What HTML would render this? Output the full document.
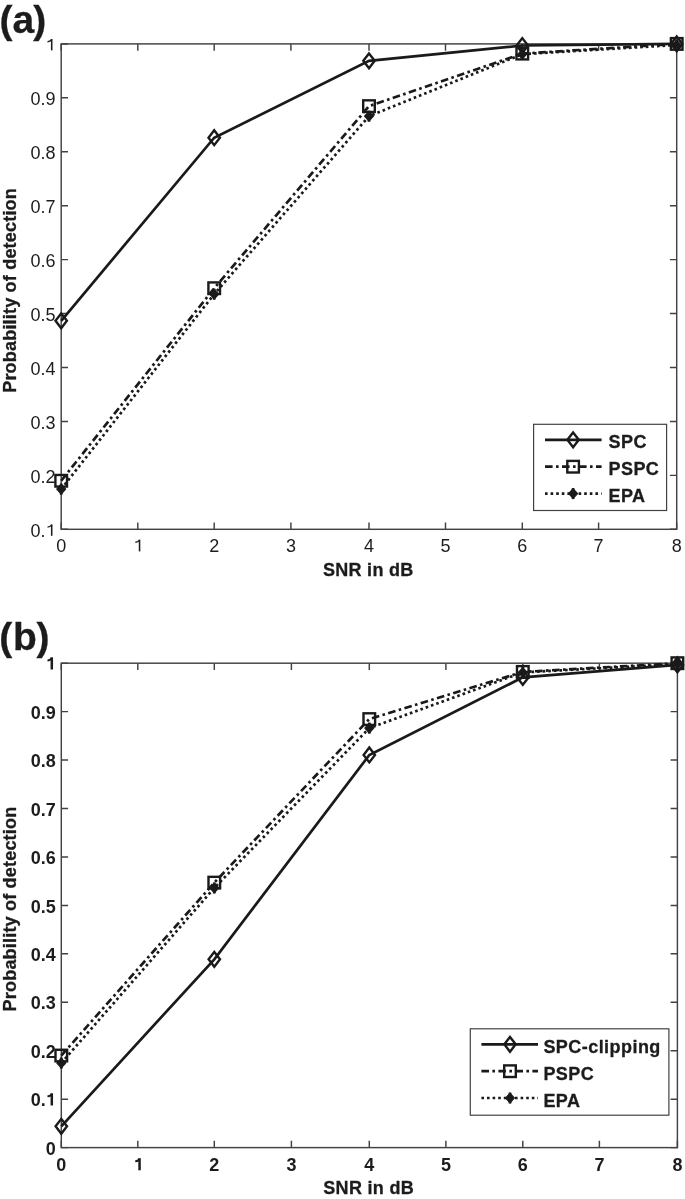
<!DOCTYPE html>
<html><head><meta charset="utf-8"><title>Probability of detection</title>
<style>
html,body{margin:0;padding:0;background:#fff;}
body{width:685px;height:1199px;overflow:hidden;}
svg{display:block;filter:blur(0.3px);}
text{font-family:"Liberation Sans", sans-serif;fill:#1c1c1c;}
.h{stroke:#1c1c1c;stroke-width:0.3px;}
</style></head><body>
<svg width="685" height="1199" viewBox="0 0 685 1199">
<rect width="685" height="1199" fill="#fff"/>
<path d="M61.2 529.3V522.5M61.2 43.9V50.7M137.8 529.3V522.5M137.8 43.9V50.7M214.2 529.3V522.5M214.2 43.9V50.7M290.9 529.3V522.5M290.9 43.9V50.7M369 529.3V522.5M369 43.9V50.7M445.5 529.3V522.5M445.5 43.9V50.7M522.3 529.3V522.5M522.3 43.9V50.7M598.6 529.3V522.5M598.6 43.9V50.7M676.7 529.3V522.5M676.7 43.9V50.7M61.2 43.9H68M676.7 43.9H669.9M61.2 97.83H68M676.7 97.83H669.9M61.2 151.77H68M676.7 151.77H669.9M61.2 205.7H68M676.7 205.7H669.9M61.2 259.63H68M676.7 259.63H669.9M61.2 313.57H68M676.7 313.57H669.9M61.2 367.5H68M676.7 367.5H669.9M61.2 421.43H68M676.7 421.43H669.9M61.2 475.37H68M676.7 475.37H669.9M61.2 529.3H68M676.7 529.3H669.9" stroke="#424242" stroke-width="1.45" fill="none"/>
<rect x="61.2" y="43.9" width="615.5" height="485.4" fill="none" stroke="#424242" stroke-width="1.45"/>
<path d="M51.7 39V50.4" stroke="#1c1c1c" stroke-width="1.55" fill="none"/>
<path d="M51.7 39.51Q50.1 41.7 47.5 41.7" stroke="#1c1c1c" stroke-width="1.45" fill="none"/>
<text x="55.6" y="105.33" font-size="18" font-weight="normal" text-anchor="end">0.9</text>
<text x="55.6" y="159.27" font-size="18" font-weight="normal" text-anchor="end">0.8</text>
<text x="55.6" y="213.2" font-size="18" font-weight="normal" text-anchor="end">0.7</text>
<text x="55.6" y="267.13" font-size="18" font-weight="normal" text-anchor="end">0.6</text>
<text x="55.6" y="321.07" font-size="18" font-weight="normal" text-anchor="end">0.5</text>
<text x="55.6" y="375" font-size="18" font-weight="normal" text-anchor="end">0.4</text>
<text x="55.6" y="428.93" font-size="18" font-weight="normal" text-anchor="end">0.3</text>
<text x="55.6" y="482.87" font-size="18" font-weight="normal" text-anchor="end">0.2</text>
<text x="45.6" y="536.8" font-size="18" font-weight="normal" text-anchor="end">0.</text>
<path d="M51.7 524.4V535.8" stroke="#1c1c1c" stroke-width="1.55" fill="none"/>
<path d="M51.7 524.91Q50.1 527.1 47.5 527.1" stroke="#1c1c1c" stroke-width="1.45" fill="none"/>
<text x="61.2" y="552" font-size="18" font-weight="normal" text-anchor="middle">0</text>
<path d="M139.55 539.6V551.4" stroke="#1c1c1c" stroke-width="1.55" fill="none"/>
<path d="M139.55 540.11Q137.95 542.3 135.35 542.3" stroke="#1c1c1c" stroke-width="1.45" fill="none"/>
<text x="214.2" y="552" font-size="18" font-weight="normal" text-anchor="middle">2</text>
<text x="290.9" y="552" font-size="18" font-weight="normal" text-anchor="middle">3</text>
<text x="369" y="552" font-size="18" font-weight="normal" text-anchor="middle">4</text>
<text x="445.5" y="552" font-size="18" font-weight="normal" text-anchor="middle">5</text>
<text x="522.3" y="552" font-size="18" font-weight="normal" text-anchor="middle">6</text>
<text x="598.6" y="552" font-size="18" font-weight="normal" text-anchor="middle">7</text>
<text x="676.7" y="552" font-size="18" font-weight="normal" text-anchor="middle">8</text>
<text x="368.25" y="575.5" font-size="18" font-weight="bold" text-anchor="middle" letter-spacing="0.3" class="h">SNR in dB</text>
<text x="0" y="0" font-size="18" font-weight="bold" text-anchor="middle" letter-spacing="0.2" class="h" transform="translate(16 290.4) rotate(-90)">Probability of detection</text>
<path d="M61.2 320.79L214.2 137.74L369 60.84L522.3 45.52L676.7 43.9" fill="none" stroke="#1a1a1a" stroke-width="2.7" stroke-linejoin="miter"/>
<path d="M61.2 313.39L66.9 320.79L61.2 328.19L55.5 320.79Z" fill="none" stroke="#1a1a1a" stroke-width="2.4" stroke-linejoin="miter" stroke-miterlimit="10"/>
<path d="M214.2 130.34L219.9 137.74L214.2 145.14L208.5 137.74Z" fill="none" stroke="#1a1a1a" stroke-width="2.4" stroke-linejoin="miter" stroke-miterlimit="10"/>
<path d="M369 53.44L374.7 60.84L369 68.24L363.3 60.84Z" fill="none" stroke="#1a1a1a" stroke-width="2.4" stroke-linejoin="miter" stroke-miterlimit="10"/>
<path d="M522.3 38.12L528 45.52L522.3 52.92L516.6 45.52Z" fill="none" stroke="#1a1a1a" stroke-width="2.4" stroke-linejoin="miter" stroke-miterlimit="10"/>
<path d="M676.7 36.5L682.4 43.9L676.7 51.3L671 43.9Z" fill="none" stroke="#1a1a1a" stroke-width="2.4" stroke-linejoin="miter" stroke-miterlimit="10"/>
<path d="M61.2 480.76L214.2 288.22L369 106.14L522.3 53.61L676.7 43.9" fill="none" stroke="#1a1a1a" stroke-width="2.7" stroke-dasharray="7.6 3.4 2.6 3.4" stroke-linejoin="miter"/>
<rect x="55.4" y="474.96" width="11.6" height="11.6" fill="none" stroke="#1a1a1a" stroke-width="2.4"/>
<rect x="208.4" y="282.42" width="11.6" height="11.6" fill="none" stroke="#1a1a1a" stroke-width="2.4"/>
<rect x="363.2" y="100.34" width="11.6" height="11.6" fill="none" stroke="#1a1a1a" stroke-width="2.4"/>
<rect x="516.5" y="47.81" width="11.6" height="11.6" fill="none" stroke="#1a1a1a" stroke-width="2.4"/>
<rect x="670.9" y="38.1" width="11.6" height="11.6" fill="none" stroke="#1a1a1a" stroke-width="2.4"/>
<path d="M61.2 489.12L214.2 294.15L369 116.17L522.3 54.15L676.7 44.98" fill="none" stroke="#1a1a1a" stroke-width="2.7" stroke-dasharray="2.6 3" stroke-linejoin="miter"/>
<path d="M61.2 484.22L65.7 489.12L61.2 494.02L56.7 489.12Z" fill="#1a1a1a" stroke="#1a1a1a" stroke-width="1.1" stroke-linejoin="round"/>
<rect x="59.8" y="483.62" width="2.8" height="11" fill="#1a1a1a"/>
<path d="M214.2 289.25L218.7 294.15L214.2 299.05L209.7 294.15Z" fill="#1a1a1a" stroke="#1a1a1a" stroke-width="1.1" stroke-linejoin="round"/>
<rect x="212.8" y="288.65" width="2.8" height="11" fill="#1a1a1a"/>
<path d="M369 111.27L373.5 116.17L369 121.07L364.5 116.17Z" fill="#1a1a1a" stroke="#1a1a1a" stroke-width="1.1" stroke-linejoin="round"/>
<rect x="367.6" y="110.67" width="2.8" height="11" fill="#1a1a1a"/>
<path d="M522.3 49.25L526.8 54.15L522.3 59.05L517.8 54.15Z" fill="#1a1a1a" stroke="#1a1a1a" stroke-width="1.1" stroke-linejoin="round"/>
<rect x="520.9" y="48.65" width="2.8" height="11" fill="#1a1a1a"/>
<path d="M676.7 40.08L681.2 44.98L676.7 49.88L672.2 44.98Z" fill="#1a1a1a" stroke="#1a1a1a" stroke-width="1.1" stroke-linejoin="round"/>
<rect x="675.3" y="39.48" width="2.8" height="11" fill="#1a1a1a"/>
<rect x="533.6" y="424.3" width="133" height="86.2" fill="#fff" stroke="#424242" stroke-width="1.2"/>
<path d="M545 439.8L601.6 439.8" fill="none" stroke="#1a1a1a" stroke-width="2.7" stroke-linejoin="miter"/>
<path d="M573.1 432.4L578.8 439.8L573.1 447.2L567.4 439.8Z" fill="none" stroke="#1a1a1a" stroke-width="2.4" stroke-linejoin="miter" stroke-miterlimit="10"/>
<text x="608.5" y="447.9" font-size="18" font-weight="bold" text-anchor="start" letter-spacing="0.45" class="h">SPC</text>
<path d="M545 466.7L601.6 466.7" fill="none" stroke="#1a1a1a" stroke-width="2.7" stroke-dasharray="7.6 3.4 2.6 3.4" stroke-linejoin="miter"/>
<rect x="567.3" y="460.9" width="11.6" height="11.6" fill="none" stroke="#1a1a1a" stroke-width="2.4"/>
<text x="608.5" y="474.8" font-size="18" font-weight="bold" text-anchor="start" letter-spacing="0.45" class="h">PSPC</text>
<path d="M545 493.6L601.6 493.6" fill="none" stroke="#1a1a1a" stroke-width="2.7" stroke-dasharray="2.6 3" stroke-linejoin="miter"/>
<path d="M573.1 488.7L577.6 493.6L573.1 498.5L568.6 493.6Z" fill="#1a1a1a" stroke="#1a1a1a" stroke-width="1.1" stroke-linejoin="round"/>
<rect x="571.7" y="488.1" width="2.8" height="11" fill="#1a1a1a"/>
<text x="608.5" y="501.7" font-size="18" font-weight="bold" text-anchor="start" letter-spacing="0.45" class="h">EPA</text>
<text x="-0.5" y="32.8" font-size="39" font-weight="bold" letter-spacing="-1.6" class="h">(<tspan dx="1.7">a</tspan><tspan dx="0.5">)</tspan></text>
<path d="M61.3 1147.6V1140.8M61.3 663.2V670M137.8 1147.6V1140.8M137.8 663.2V670M214.3 1147.6V1140.8M214.3 663.2V670M291.4 1147.6V1140.8M291.4 663.2V670M369.3 1147.6V1140.8M369.3 663.2V670M445.9 1147.6V1140.8M445.9 663.2V670M522.8 1147.6V1140.8M522.8 663.2V670M599.4 1147.6V1140.8M599.4 663.2V670M677.4 1147.6V1140.8M677.4 663.2V670M61.3 663.2H68.1M677.4 663.2H670.6M61.3 711.64H68.1M677.4 711.64H670.6M61.3 760.08H68.1M677.4 760.08H670.6M61.3 808.52H68.1M677.4 808.52H670.6M61.3 856.96H68.1M677.4 856.96H670.6M61.3 905.4H68.1M677.4 905.4H670.6M61.3 953.84H68.1M677.4 953.84H670.6M61.3 1002.28H68.1M677.4 1002.28H670.6M61.3 1050.72H68.1M677.4 1050.72H670.6M61.3 1099.16H68.1M677.4 1099.16H670.6M61.3 1147.6H68.1M677.4 1147.6H670.6" stroke="#424242" stroke-width="1.45" fill="none"/>
<rect x="61.3" y="663.2" width="616.1" height="484.4" fill="none" stroke="#424242" stroke-width="1.45"/>
<path d="M51.8 657.3V669.5" stroke="#1c1c1c" stroke-width="2.5" fill="none"/>
<path d="M51.8 658Q50.2 660.4 47.5 660.4" stroke="#1c1c1c" stroke-width="2.0" fill="none"/>
<text x="55.7" y="718.84" font-size="18" font-weight="bold" text-anchor="end">0.9</text>
<text x="55.7" y="767.28" font-size="18" font-weight="bold" text-anchor="end">0.8</text>
<text x="55.7" y="815.72" font-size="18" font-weight="bold" text-anchor="end">0.7</text>
<text x="55.7" y="864.16" font-size="18" font-weight="bold" text-anchor="end">0.6</text>
<text x="55.7" y="912.6" font-size="18" font-weight="bold" text-anchor="end">0.5</text>
<text x="55.7" y="961.04" font-size="18" font-weight="bold" text-anchor="end">0.4</text>
<text x="55.7" y="1009.48" font-size="18" font-weight="bold" text-anchor="end">0.3</text>
<text x="55.7" y="1057.92" font-size="18" font-weight="bold" text-anchor="end">0.2</text>
<text x="45.7" y="1106.36" font-size="18" font-weight="bold" text-anchor="end">0.</text>
<path d="M51.8 1093.26V1105.46" stroke="#1c1c1c" stroke-width="2.5" fill="none"/>
<path d="M51.8 1093.96Q50.2 1096.36 47.5 1096.36" stroke="#1c1c1c" stroke-width="2.0" fill="none"/>
<text x="55.7" y="1154.8" font-size="18" font-weight="bold" text-anchor="end">0</text>
<text x="61.3" y="1171" font-size="18" font-weight="bold" text-anchor="middle">0</text>
<path d="M139.55 1158.2V1170.3" stroke="#1c1c1c" stroke-width="2.5" fill="none"/>
<path d="M139.55 1158.9Q137.95 1161.3 135.25 1161.3" stroke="#1c1c1c" stroke-width="2.0" fill="none"/>
<text x="214.3" y="1171" font-size="18" font-weight="bold" text-anchor="middle">2</text>
<text x="291.4" y="1171" font-size="18" font-weight="bold" text-anchor="middle">3</text>
<text x="369.3" y="1171" font-size="18" font-weight="bold" text-anchor="middle">4</text>
<text x="445.9" y="1171" font-size="18" font-weight="bold" text-anchor="middle">5</text>
<text x="522.8" y="1171" font-size="18" font-weight="bold" text-anchor="middle">6</text>
<text x="599.4" y="1171" font-size="18" font-weight="bold" text-anchor="middle">7</text>
<text x="677.4" y="1171" font-size="18" font-weight="bold" text-anchor="middle">8</text>
<text x="368.65" y="1194" font-size="18" font-weight="bold" text-anchor="middle" letter-spacing="0.3" class="h">SNR in dB</text>
<text x="0" y="0" font-size="18" font-weight="bold" text-anchor="middle" letter-spacing="0.2" class="h" transform="translate(16 909) rotate(-90)">Probability of detection</text>
<path d="M61.3 1126.29L214.3 959.31L369.3 754.99L522.8 677.39L677.4 664.9" fill="none" stroke="#1a1a1a" stroke-width="2.7" stroke-linejoin="miter"/>
<path d="M61.3 1118.89L67 1126.29L61.3 1133.69L55.6 1126.29Z" fill="none" stroke="#1a1a1a" stroke-width="2.4" stroke-linejoin="miter" stroke-miterlimit="10"/>
<path d="M214.3 951.91L220 959.31L214.3 966.71L208.6 959.31Z" fill="none" stroke="#1a1a1a" stroke-width="2.4" stroke-linejoin="miter" stroke-miterlimit="10"/>
<path d="M369.3 747.59L375 754.99L369.3 762.39L363.6 754.99Z" fill="none" stroke="#1a1a1a" stroke-width="2.4" stroke-linejoin="miter" stroke-miterlimit="10"/>
<path d="M522.8 669.99L528.5 677.39L522.8 684.79L517.1 677.39Z" fill="none" stroke="#1a1a1a" stroke-width="2.4" stroke-linejoin="miter" stroke-miterlimit="10"/>
<path d="M677.4 657.5L683.1 664.9L677.4 672.3L671.7 664.9Z" fill="none" stroke="#1a1a1a" stroke-width="2.4" stroke-linejoin="miter" stroke-miterlimit="10"/>
<path d="M61.3 1055.56L214.3 882.63L369.3 719.1L522.8 671.92L677.4 663.2" fill="none" stroke="#1a1a1a" stroke-width="2.7" stroke-dasharray="7.6 3.4 2.6 3.4" stroke-linejoin="miter"/>
<rect x="55.5" y="1049.76" width="11.6" height="11.6" fill="none" stroke="#1a1a1a" stroke-width="2.4"/>
<rect x="208.5" y="876.83" width="11.6" height="11.6" fill="none" stroke="#1a1a1a" stroke-width="2.4"/>
<rect x="363.5" y="713.3" width="11.6" height="11.6" fill="none" stroke="#1a1a1a" stroke-width="2.4"/>
<rect x="517" y="666.12" width="11.6" height="11.6" fill="none" stroke="#1a1a1a" stroke-width="2.4"/>
<rect x="671.6" y="657.4" width="11.6" height="11.6" fill="none" stroke="#1a1a1a" stroke-width="2.4"/>
<path d="M61.3 1063.07L214.3 887.96L369.3 728.11L522.8 672.4L677.4 664.17" fill="none" stroke="#1a1a1a" stroke-width="2.7" stroke-dasharray="2.6 3" stroke-linejoin="miter"/>
<path d="M61.3 1058.17L65.8 1063.07L61.3 1067.97L56.8 1063.07Z" fill="#1a1a1a" stroke="#1a1a1a" stroke-width="1.1" stroke-linejoin="round"/>
<rect x="59.9" y="1057.57" width="2.8" height="11" fill="#1a1a1a"/>
<path d="M214.3 883.06L218.8 887.96L214.3 892.86L209.8 887.96Z" fill="#1a1a1a" stroke="#1a1a1a" stroke-width="1.1" stroke-linejoin="round"/>
<rect x="212.9" y="882.46" width="2.8" height="11" fill="#1a1a1a"/>
<path d="M369.3 723.21L373.8 728.11L369.3 733.01L364.8 728.11Z" fill="#1a1a1a" stroke="#1a1a1a" stroke-width="1.1" stroke-linejoin="round"/>
<rect x="367.9" y="722.61" width="2.8" height="11" fill="#1a1a1a"/>
<path d="M522.8 667.5L527.3 672.4L522.8 677.3L518.3 672.4Z" fill="#1a1a1a" stroke="#1a1a1a" stroke-width="1.1" stroke-linejoin="round"/>
<rect x="521.4" y="666.9" width="2.8" height="11" fill="#1a1a1a"/>
<path d="M677.4 659.27L681.9 664.17L677.4 669.07L672.9 664.17Z" fill="#1a1a1a" stroke="#1a1a1a" stroke-width="1.1" stroke-linejoin="round"/>
<rect x="676" y="658.67" width="2.8" height="11" fill="#1a1a1a"/>
<rect x="470.3" y="1028.8" width="198.6" height="86.4" fill="#fff" stroke="#424242" stroke-width="1.2"/>
<path d="M481.4 1044.3L538 1044.3" fill="none" stroke="#1a1a1a" stroke-width="2.7" stroke-linejoin="miter"/>
<path d="M510 1036.9L515.7 1044.3L510 1051.7L504.3 1044.3Z" fill="none" stroke="#1a1a1a" stroke-width="2.4" stroke-linejoin="miter" stroke-miterlimit="10"/>
<text x="543.4" y="1053.1" font-size="18" font-weight="bold" text-anchor="start" letter-spacing="0.45" class="h">SPC-clipping</text>
<path d="M481.4 1071.2L538 1071.2" fill="none" stroke="#1a1a1a" stroke-width="2.7" stroke-dasharray="7.6 3.4 2.6 3.4" stroke-linejoin="miter"/>
<rect x="504.2" y="1065.4" width="11.6" height="11.6" fill="none" stroke="#1a1a1a" stroke-width="2.4"/>
<text x="543.4" y="1080" font-size="18" font-weight="bold" text-anchor="start" letter-spacing="0.45" class="h">PSPC</text>
<path d="M481.4 1098L538 1098" fill="none" stroke="#1a1a1a" stroke-width="2.7" stroke-dasharray="2.6 3" stroke-linejoin="miter"/>
<path d="M510 1093.1L514.5 1098L510 1102.9L505.5 1098Z" fill="#1a1a1a" stroke="#1a1a1a" stroke-width="1.1" stroke-linejoin="round"/>
<rect x="508.6" y="1092.5" width="2.8" height="11" fill="#1a1a1a"/>
<text x="543.4" y="1106.8" font-size="18" font-weight="bold" text-anchor="start" letter-spacing="0.45" class="h">EPA</text>
<text x="-0.7" y="649.9" font-size="39" font-weight="bold" letter-spacing="-1.6" class="h">(<tspan dx="2.2">b</tspan><tspan dx="1.4">)</tspan></text>
</svg>
</body></html>
